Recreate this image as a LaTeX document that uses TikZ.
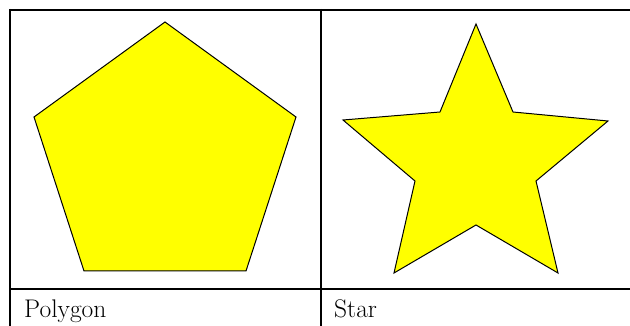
\documentclass[tikz,border=0pt]{standalone}
\definecolor{pureyellow}{RGB}{255,255,0}
\begin{document}
\begin{tikzpicture}[x=1pt,y=1pt,
  grid/.style={line width=2pt,black},
  shapefill/.style={fill=pureyellow,draw=black,line width=1pt,line join=miter},
  celltext/.style={anchor=base west,inner sep=0pt,font=\fontsize{25.5}{30}\selectfont}]
\useasboundingbox (0,0) rectangle (630,326);
% table lines (y = 326 - pixel row)
\draw[grid] (9,316) -- (630,316);
\draw[grid] (9,37) -- (630,37);
\draw[grid] (10,317) -- (10,0);
\draw[grid] (321,317) -- (321,0);
% pentagon
\draw[shapefill] (165,304) -- (296,209) -- (246,55) -- (84,55) -- (34,209) -- cycle;
% star
\draw[shapefill] (476,302) -- (513,214) -- (608,205) -- (536,145) -- (558,53)
  -- (476,101) -- (394,53) -- (415,145) -- (343,206) -- (440,214) -- cycle;
% labels
\node[celltext] (poly) at (24,8) {Polygon};
\node[celltext] (star) at (334,8) {Star};
\end{tikzpicture}
\end{document}
